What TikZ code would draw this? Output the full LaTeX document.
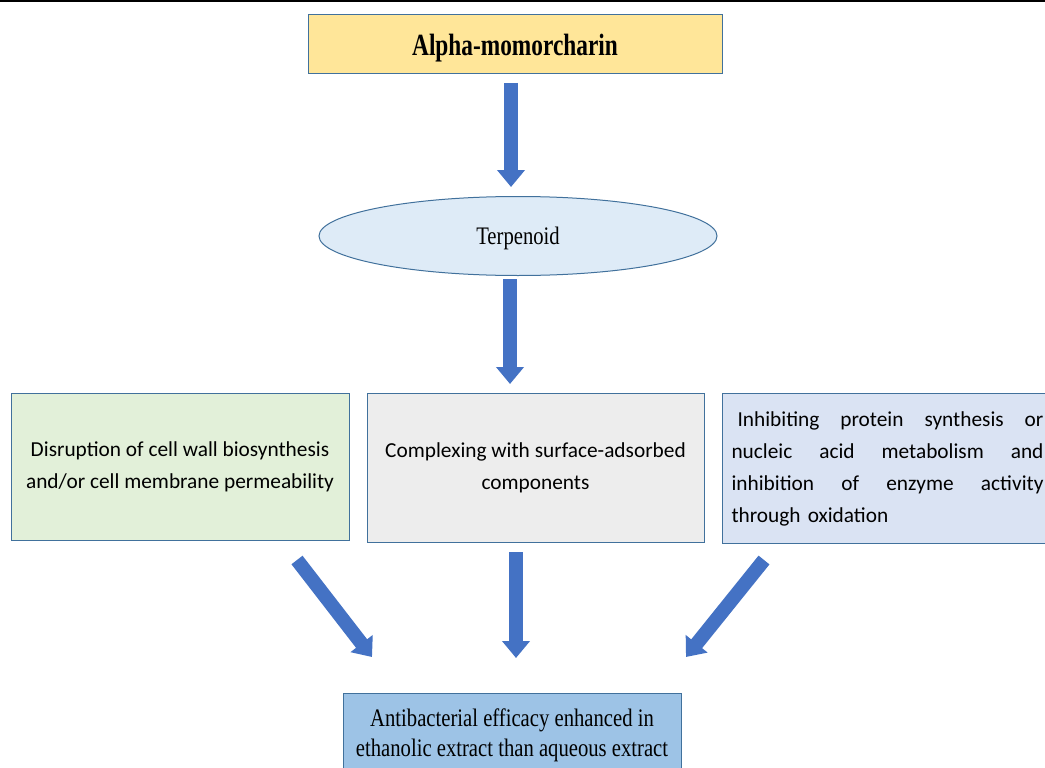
\documentclass[tikz,border=0pt]{standalone}
\usepackage{fontspec}
\setmainfont{Liberation Serif}
\newfontfamily\calibri{Carlito}
\usetikzlibrary{shapes.geometric,arrows.meta}
\definecolor{bordc}{HTML}{41719C}
\definecolor{arrc}{HTML}{4472C4}
\definecolor{gold}{HTML}{FFE699}
\definecolor{ellc}{HTML}{DEEBF7}
\definecolor{greenc}{HTML}{E2F0D9}
\definecolor{grayc}{HTML}{EDEDED}
\definecolor{bluec}{HTML}{DAE3F3}
\definecolor{botc}{HTML}{9DC3E6}
\newcommand{\jline}[1]{\leavevmode\hbox to 234pt{#1}}
\newcommand{\tall}[1]{\scalebox{1}[1.22]{#1}}
\tikzset{
  boxst/.style={draw=bordc, line width=0.75pt, rectangle, inner sep=0pt},
  calfont/.style={font=\calibri\fontsize{16}{24}\selectfont},
  serfont/.style={font=\fontsize{15.5}{22.5}\selectfont},
  blockarrow/.style={draw=arrc, line width=10.5pt, -{Triangle[width=20.25pt,length=12.75pt]}},
}
\begin{document}
\begin{tikzpicture}[x=0.75pt,y=-0.75pt]
\clip (0,0) rectangle (1045,767);
\fill[white] (0,0) rectangle (1045,767);
\fill[black] (0,0) rectangle (1045,2.5);

\node[boxst, fill=gold, minimum width=310.5pt, minimum height=44.25pt,
      font=\bfseries\fontsize{17.5}{21}\selectfont] (top) at (515,44.5)
      {\raisebox{-8.4pt}[0pt][0pt]{\scalebox{1}[1.32]{Alpha-momorcharin}}};

\node[draw=bordc, line width=0.75pt, ellipse, fill=ellc, minimum width=298.5pt,
      minimum height=59.25pt, inner sep=0pt, serfont] (terp) at (518,236)
      {\raisebox{-6.6pt}[0pt][0pt]{\tall{Terpenoid}}};

\node[boxst, fill=greenc, minimum width=253.5pt, minimum height=110.25pt,
      align=center, calfont] (dis) at (180,466.5)
      {Disruption of cell wall biosynthesis\\and/or cell membrane permeability};

\node[boxst, fill=grayc, minimum width=252.75pt, minimum height=111.75pt,
      align=center, calfont] (comp) at (535.5,467.5)
      {Complexing with surface-adsorbed\\components};

\node[boxst, fill=bluec, anchor=north west, minimum height=112.5pt,
      text width=234pt, inner xsep=6.75pt, align=left, calfont] (inh) at (722,393)
      {\jline{\hspace{4.5pt}Inhibiting\hfill protein\hfill synthesis\hfill or}\\
       \jline{nucleic\hfill acid\hfill metabolism\hfill and}\\
       \jline{inhibition\hfill of\hfill enzyme\hfill activity}\\
       through oxidation};

\node[boxst, fill=botc, anchor=north, minimum width=253.5pt, minimum height=62pt,
      align=center, serfont] (anti) at (512,693)
      {\tall{Antibacterial efficacy enhanced in}\\\tall{ethanolic extract than aqueous extract}};

\coordinate (a1s) at (511,83);
\coordinate (a1e) at (511,187);
\coordinate (a2s) at (510,279);
\coordinate (a2e) at (510,384);
\coordinate (a3s) at (297,560);
\coordinate (a3e) at (372,657);
\coordinate (a4s) at (516,552);
\coordinate (a4e) at (516,658);
\coordinate (a5s) at (764,560);
\coordinate (a5e) at (686,657);

\draw[blockarrow] (a1s) -- (a1e);
\draw[blockarrow] (a2s) -- (a2e);
\draw[blockarrow] (a3s) -- (a3e);
\draw[blockarrow] (a4s) -- (a4e);
\draw[blockarrow] (a5s) -- (a5e);
\end{tikzpicture}
\end{document}
